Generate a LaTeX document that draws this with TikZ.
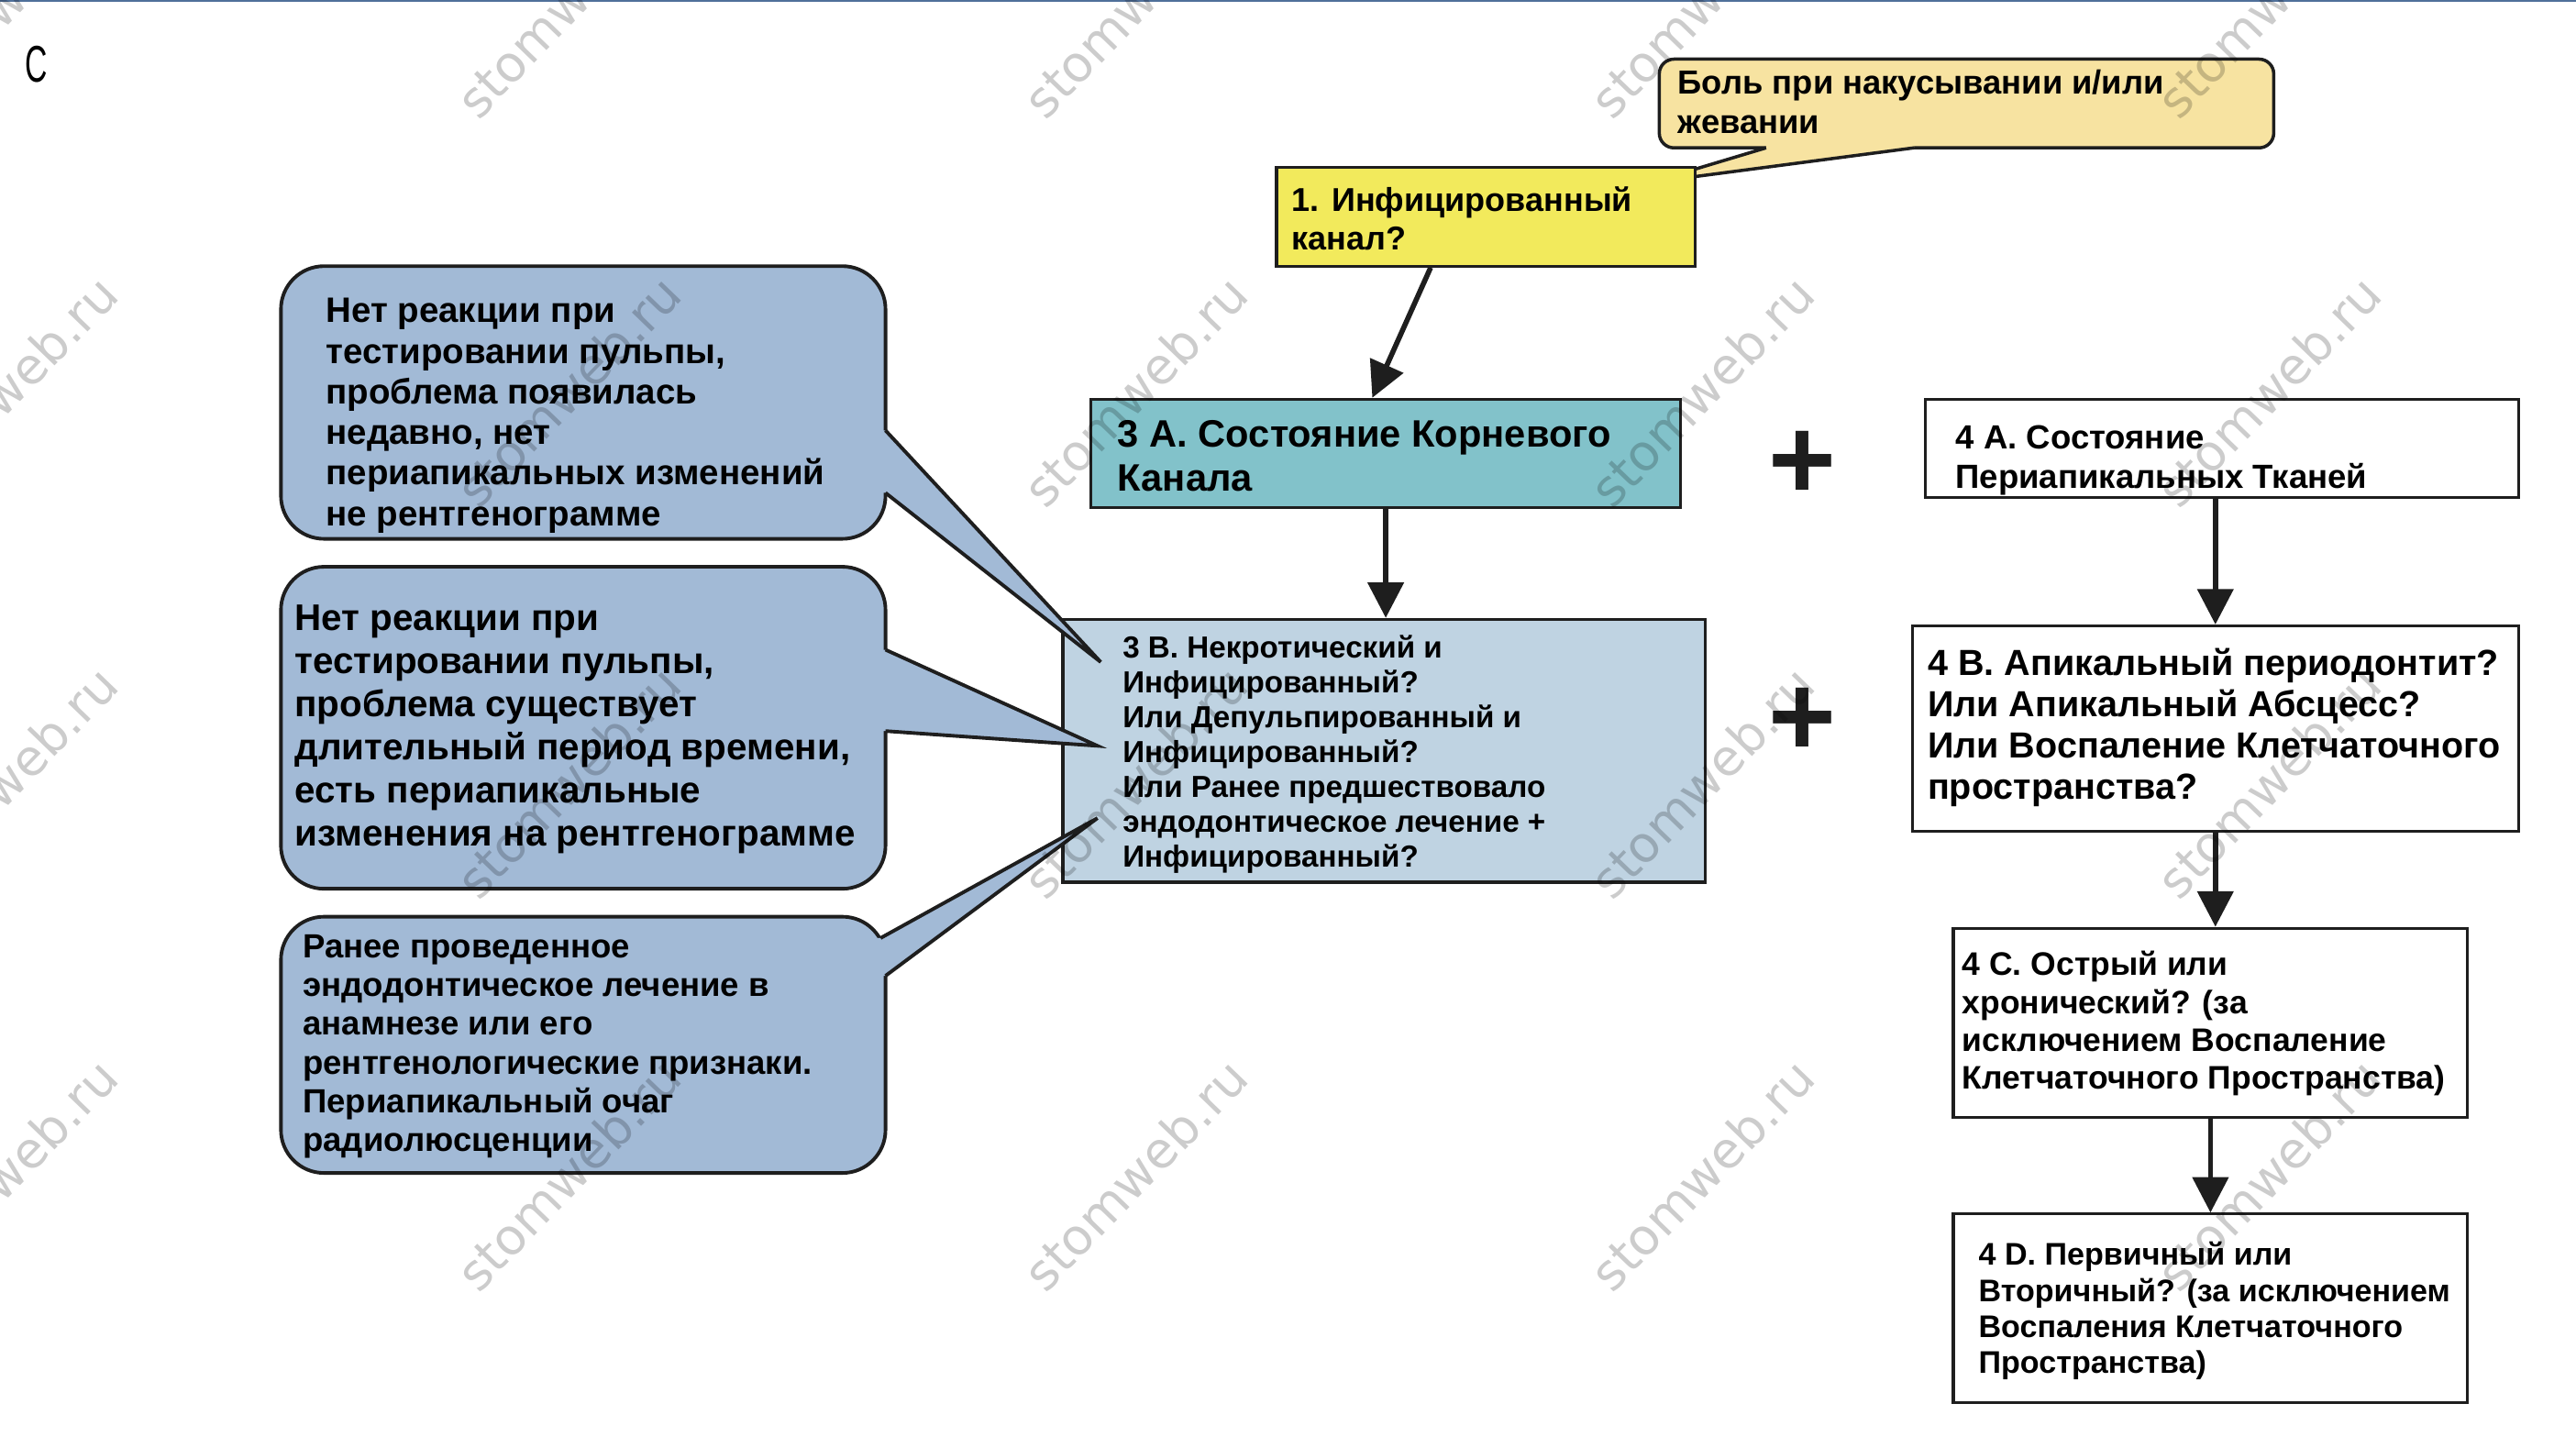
\documentclass[tikz,border=0pt]{standalone}
\usepackage{fontspec}
\setmainfont{Liberation Sans}
\newfontfamily\wmfont{DejaVu Sans}
\usetikzlibrary{fit,calc,arrows.meta}
\definecolor{cblue}{HTML}{A2BAD6}
\definecolor{bbox}{HTML}{BFD3E2}
\definecolor{teal3a}{HTML}{82C2CA}
\definecolor{yel}{HTML}{F2EA5C}
\definecolor{tan}{HTML}{F7E3A1}
\definecolor{edge}{HTML}{1E1E1E}
\definecolor{topline}{HTML}{50709A}
\newcommand{\fsz}[2]{\fontsize{#1}{#2}\selectfont\bfseries}
\begin{document}
\begin{tikzpicture}[x=0.017914cm,y=-0.017914cm,
  boxst/.style={draw=edge,line width=0.9pt,inner sep=0pt,rectangle},
  callst/.style={draw=edge,line width=1.1pt,inner sep=0pt,rectangle,fill=cblue,rounded corners=0.47cm},
  callline/.style={draw=edge,line width=1.1pt,line join=miter},
  txt/.style={align=left,anchor=west,inner sep=0pt,text=black},
  arr/.style={draw=edge,line width=1.6pt,-{Triangle[length=11pt,width=11pt]}},
  plus/.style={inner sep=0pt,font=\fontsize{36pt}{36pt}\selectfont\bfseries,text=edge},
  wm/.style={rotate=46,inner sep=0pt,font=\wmfont\fontsize{15.5pt}{15.5pt}\selectfont,text=black,text opacity=0.2}]
\useasboundingbox (0,0) rectangle (1568,881.4);
\clip (0,0) rectangle (1568,881.4);
\fill[white] (0,0) rectangle (1568,881.4);
\draw[topline,line width=0.8pt] (0,0.5) -- (1568,0.5);

% letter
\node[inner sep=0pt,xscale=0.6,font=\fontsize{16pt}{16pt}\selectfont] (lc) at (22.3,39) {C};

% tan callout
\node[draw=edge,line width=1pt,inner sep=0pt,rectangle,fill=tan,rounded corners=0.16cm,fit={(1010,36)(1384,90)}] (tc) {};
\coordinate (tctip) at (1005,111);
\fill[tan] (1075,86) -- (1075,90) -- (tctip) -- (1165,90) -- (1165,86) -- cycle;
\draw[callline,line width=1pt] (1075,90) -- (tctip) -- (1165,90);
\node[txt,font=\fsz{10.35pt}{12.2pt}] (tct) at (1021,62) {Боль при накусывании и/или\\жевании};

% yellow box
\node[boxst,fill=yel,fit={(777,102)(1032,162)}] (y1) {};
\node[txt,font=\fsz{10.25pt}{12.2pt}] (y1t) at (786,133) {1. Инфицированный\\канал?};

% 3A
\node[boxst,fill=teal3a,fit={(664,243)(1023,309)}] (a3) {};
\node[txt,font=\fsz{11.85pt}{13.7pt}] (a3t) at (680,277.5) {3 A. Состояние Корневого\\Канала};

% 4A
\node[boxst,fill=white,fit={(1172,243)(1533,303)}] (a4) {};
\node[txt,font=\fsz{10.4pt}{12.2pt}] (a4t) at (1190,280) {4 A. Состояние\\Периапикальных Тканей};

% 3B
\node[boxst,fill=bbox,fit={(647,377)(1038,537)}] (b3) {};
\node[txt,font=\fsz{9.45pt}{10.8pt}] (b3t) at (683,459) {3 B. Некротический и\\Инфицированный?\\Или Депульпированный и\\Инфицированный?\\Или Ранее предшествовало\\эндодонтическое лечение +\\Инфицированный?};

% 4B
\node[boxst,fill=white,fit={(1164,381)(1533,506)}] (b4) {};
\node[txt,font=\fsz{11.25pt}{12.8pt}] (b4t) at (1173,443) {4 B. Апикальный периодонтит?\\Или Апикальный Абсцесс?\\Или Воспаление Клетчаточного\\пространства?};

% 4C
\node[boxst,fill=white,fit={(1189,565)(1502,680)}] (c4) {};
\node[txt,font=\fsz{10.1pt}{11.7pt}] (c4t) at (1194,623) {4 C. Острый или\\хронический? (за\\исключением Воспаление\\Клетчаточного Пространства)};

% 4D
\node[boxst,fill=white,fit={(1189,739)(1502,854)}] (d4) {};
\node[txt,font=\fsz{9.7pt}{11.2pt}] (d4t) at (1204,798) {4 D. Первичный или\\Вторичный? (за исключением\\Воспаления Клетчаточного\\Пространства)};

% plus signs
\node[plus] (p1) at (1097,283.5) {+};
\node[plus] (p2) at (1097,439.5) {+};

% blue callouts
\node[callst,fit={(171,162)(539,328)}] (k1) {};
\coordinate (k1tip) at (670,403);
\fill[cblue] (532,262) -- (539,262) -- (k1tip) -- (539,300) -- (532,300) -- cycle;
\draw[callline] (539,262) -- (k1tip) -- (539,300);
\node[txt,font=\fsz{10.95pt}{12.6pt}] (k1t) at (198,253) {Нет реакции при\\тестировании пульпы,\\проблема появилась\\недавно, нет\\периапикальных изменений\\не рентгенограмме};

\node[callst,fit={(171,345)(539,541)}] (k2) {};
\coordinate (k2tip) at (668,454);
\fill[cblue] (532,395.5) -- (539,395.5) -- (k2tip) -- (539,445) -- (532,445) -- cycle;
\draw[callline] (539,395.5) -- (k2tip) -- (539,445);
\node[txt,font=\fsz{11.5pt}{13.4pt}] (k2t) at (179,444) {Нет реакции при\\тестировании пульпы,\\проблема существует\\длительный период времени,\\есть периапикальные\\изменения на рентгенограмме};

\node[callst,fit={(171,558)(539,714)}] (k3) {};
\coordinate (k3tip) at (668,498);
\fill[cblue] (530,571) -- (536,571) -- (k3tip) -- (539,594) -- (530,594) -- cycle;
\draw[callline] (536,571) -- (k3tip) -- (539,594);
\node[txt,font=\fsz{10.4pt}{12pt}] (k3t) at (184,637) {Ранее проведенное\\эндодонтическое лечение в\\анамнезе или его\\рентгенологические признаки.\\Периапикальный очаг\\радиолюсценции};

% arrows
\draw[arr] ($(y1.south west)+(94.7,0)$) -- ($(a3.north west)+(172.2,0)$);
\draw[arr] (a3.south) -- (a3.south |- b3.north);
\draw[arr] (b4.north |- a4.south) -- (b4.north);
\draw[arr] (b4.south) -- (b4.south |- c4.north);
\draw[arr] (c4.south) -- (d4.north);

% watermarks
\foreach \cx in {3,346,691,1036,1381} {
  \foreach \cy in {1,238,476,715} {
    \node[wm] at (\cx,\cy) {stomweb.ru};
  }
}
\end{tikzpicture}
\end{document}
